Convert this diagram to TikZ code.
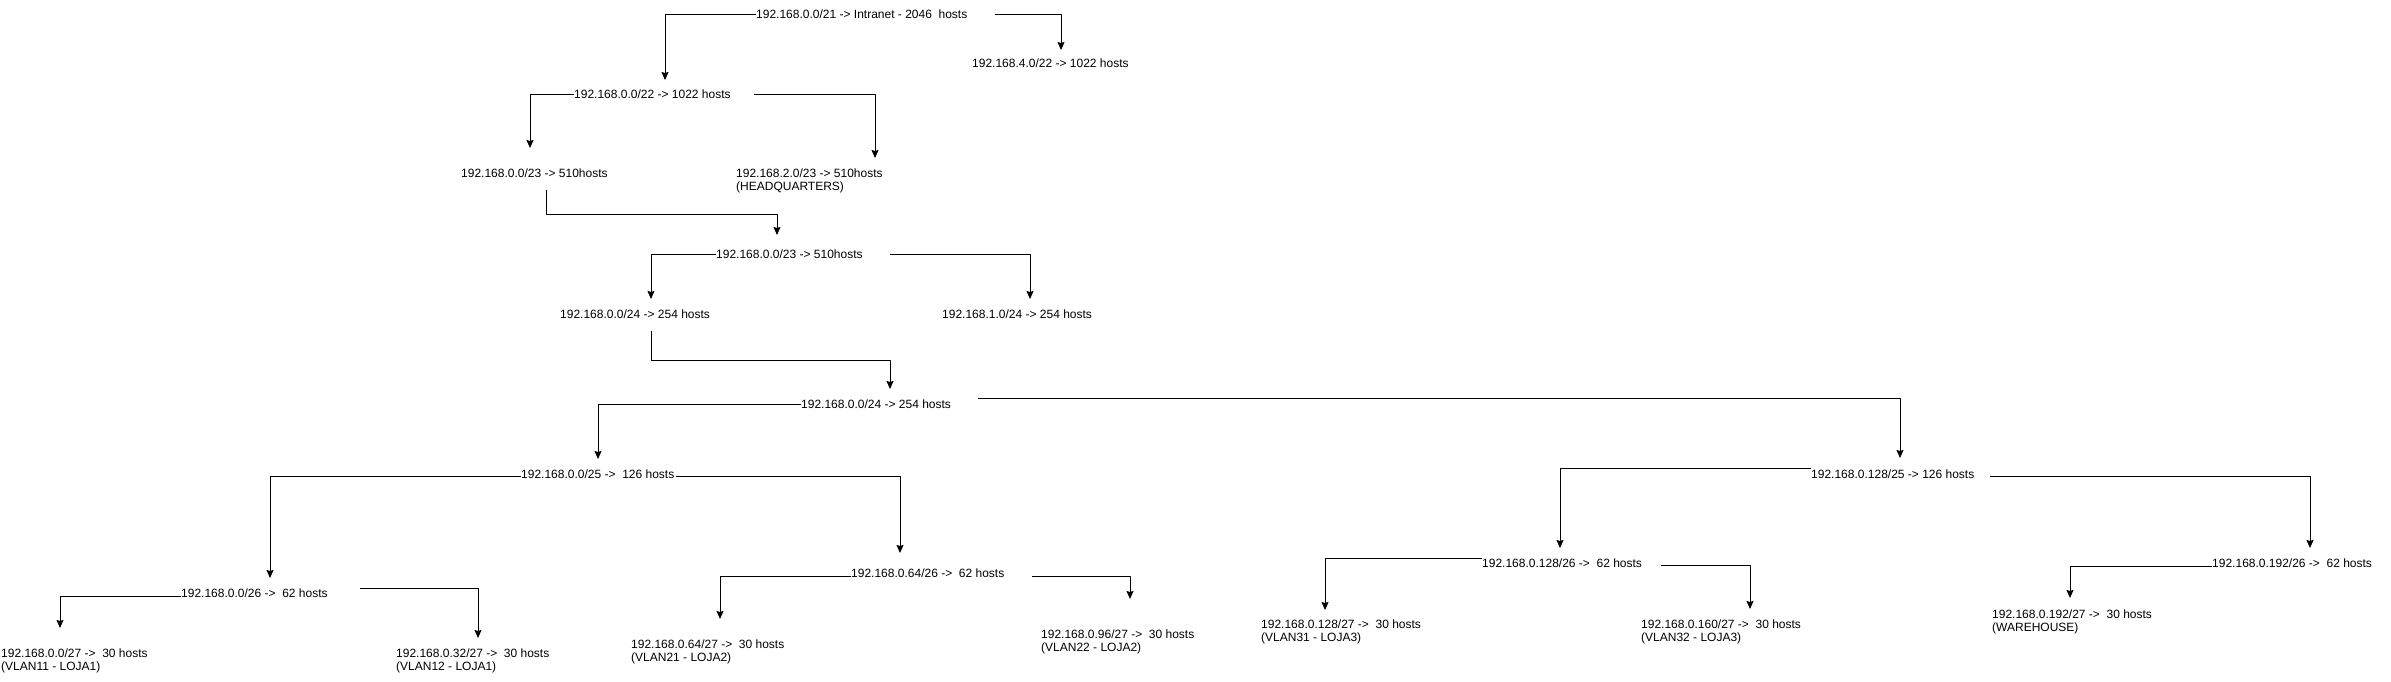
\documentclass[tikz,border=0pt]{standalone}
\usepackage{fontspec}
\setmainfont{Liberation Sans}
\usetikzlibrary{arrows.meta}
\begin{document}
\begin{tikzpicture}[x=1pt, y=-1pt, line join=round,
		net/.style={anchor=north west, inner sep=0pt, align=left, font=\fontsize{12}{13}\selectfont},
		link/.style={line width=1pt, -{Stealth[length=8pt, width=7pt, inset=1pt]}}]
		\useasboundingbox (0,0) rectangle (2391,682);
		\node[net] (root) at (756,9.5) {192.168.0.0/21 -> Intranet - 2046\ \ hosts};
		\node[net] (n4) at (972,58.5) {192.168.4.0/22 -> 1022 hosts};
		\node[net] (n22) at (574,89.5) {192.168.0.0/22 -> 1022 hosts};
		\node[net] (n23) at (461,168.5) {192.168.0.0/23 -> 510hosts};
		\node[net] (hq) at (736,168.5) {192.168.2.0/23 -> 510hosts\\(HEADQUARTERS)};
		\node[net] (n23b) at (716,249.5) {192.168.0.0/23 -> 510hosts};
		\node[net] (n24a) at (560,309.5) {192.168.0.0/24 -> 254 hosts};
		\node[net] (n1) at (942,309.5) {192.168.1.0/24 -> 254 hosts};
		\node[net] (n24b) at (801,399.5) {192.168.0.0/24 -> 254 hosts};
		\node[net] (n25) at (521,469.5) {192.168.0.0/25 ->\ \ 126 hosts};
		\node[net] (n128) at (1811,469.5) {192.168.0.128/25 -> 126 hosts};
		\node[net] (n26a) at (181,588.5) {192.168.0.0/26 ->\ \ 62 hosts};
		\node[net] (n26b) at (851,568.5) {192.168.0.64/26 ->\ \ 62 hosts};
		\node[net] (n26c) at (1482,558.5) {192.168.0.128/26 ->\ \ 62 hosts};
		\node[net] (n26d) at (2212,558.5) {192.168.0.192/26 ->\ \ 62 hosts};
		\node[net] (v11) at (1,648.5) {192.168.0.0/27 ->\ \ 30 hosts\\(VLAN11 - LOJA1)};
		\node[net] (v12) at (396,648.5) {192.168.0.32/27 ->\ \ 30 hosts\\(VLAN12 - LOJA1)};
		\node[net] (v21) at (631,639.5) {192.168.0.64/27 ->\ \ 30 hosts\\(VLAN21 - LOJA2)};
		\node[net] (v22) at (1041,629.5) {192.168.0.96/27 ->\ \ 30 hosts\\(VLAN22 - LOJA2)};
		\node[net] (v31) at (1261,619.5) {192.168.0.128/27 ->\ \ 30 hosts\\(VLAN31 - LOJA3)};
		\node[net] (v32) at (1641,619.5) {192.168.0.160/27 ->\ \ 30 hosts\\(VLAN32 - LOJA3)};
		\node[net] (wh) at (1992,609.5) {192.168.0.192/27 ->\ \ 30 hosts\\(WAREHOUSE)};
		\draw[link] (root.west) -| ([xshift=91pt,yshift=9.5pt]n22.north west);
		\draw[link] ([xshift=27pt]root.east) -| ([xshift=89pt,yshift=8.5pt]n4.north west);
		\draw[link] (n22.west) -| ([xshift=69pt,yshift=20.5pt]n23.north west);
		\draw[link] ([xshift=23pt]n22.east) -| ([xshift=139pt,yshift=10.5pt]hq.north west);
		\draw[link] ([xshift=85pt,yshift=-12pt]n23.south west) -- ++(0,25) -| ([xshift=61pt,yshift=14.5pt]n23b.north west);
		\draw[link] (n23b.west) -| ([xshift=91pt,yshift=10.5pt]n24a.north west);
		\draw[link] ([xshift=27pt]n23b.east) -| ([xshift=88pt,yshift=10.5pt]n1.north west);
		\draw[link] ([xshift=91pt,yshift=-12pt]n24a.south west) -- ++(0,30) -| ([xshift=89pt,yshift=10.5pt]n24b.north west);
		\draw[link] (n24b.west) -| ([xshift=77pt,yshift=10.5pt]n25.north west);
		\draw[link] ([xshift=27pt,yshift=6pt]n24b.east) -| ([xshift=89pt,yshift=11.5pt]n128.north west);
		\draw[link] ([yshift=-2pt]n25.west) -| ([xshift=89pt,yshift=10.5pt]n26a.north west);
		\draw[link] ([xshift=1pt,yshift=-2pt]n25.east) -| ([xshift=49pt,yshift=15.5pt]n26b.north west);
		\draw[link] ([yshift=6pt]n128.west) -| ([xshift=78pt,yshift=10.5pt]n26c.north west);
		\draw[link] ([xshift=15pt,yshift=-2pt]n128.east) -| ([xshift=98pt,yshift=10.5pt]n26d.north west);
		\draw[link] ([yshift=-3pt]n26a.west) -| ([xshift=59pt,yshift=20.5pt]v11.north west);
		\draw[link] ([xshift=32pt,yshift=5pt]n26a.east) -| ([xshift=82pt,yshift=10.5pt]v12.north west);
		\draw[link] ([yshift=-3pt]n26b.west) -| ([xshift=89pt,yshift=20.5pt]v21.north west);
		\draw[link] ([xshift=27pt,yshift=-3pt]n26b.east) -| ([xshift=89pt,yshift=30.5pt]v22.north west);
		\draw[link] ([yshift=5pt]n26c.west) -| ([xshift=64pt,yshift=9.5pt]v31.north west);
		\draw[link] ([xshift=19pt,yshift=-2pt]n26c.east) -| ([xshift=109pt,yshift=10.5pt]v32.north west);
		\draw[link] ([yshift=-3pt]n26d.west) -| ([xshift=78pt,yshift=11.5pt]wh.north west);
\end{tikzpicture}
\end{document}
